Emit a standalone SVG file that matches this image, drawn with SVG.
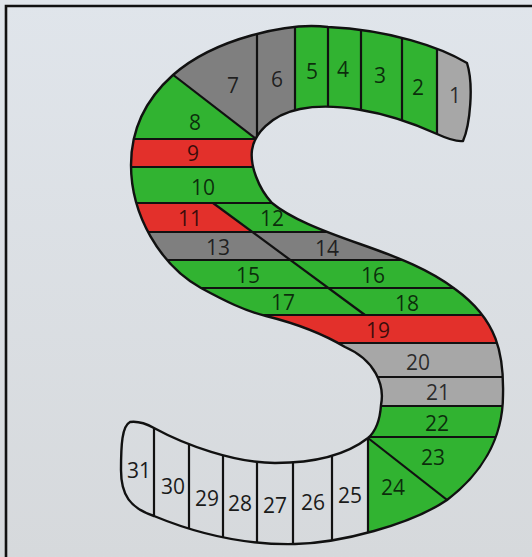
<svg xmlns="http://www.w3.org/2000/svg" width="532" height="557" viewBox="0 0 532 557">
<defs>
<linearGradient id="bg" x1="0" y1="0" x2="0" y2="1">
<stop offset="0" stop-color="#e0e5eb"/>
<stop offset="1" stop-color="#d6d9dc"/>
</linearGradient>
<clipPath id="s">
<path d="M467,63 C440,47 390,30 328,27 C290,22 215,38 173,75 C145,100 131,130 131,165 C131,215 160,265 201,288 C225,301 245,311 266,316 C290,322 320,332 345,347 C375,360 385,385 381,405 C380,420 375,432 368,438 C350,452 320,463 275,463 C235,463 185,445 154,428 C145,423 137,421 130,422 C122,426 121,445 121,470 C121,495 130,508 154,516 C200,535 250,545 295,544 C340,543 410,525 447,500 C480,475 503,440 503,395 C504,355 498,320 455,289 C430,270 400,258 360,244 C320,230 290,218 272,203 C258,188 250,165 252,150 C254,135 270,115 300,109 C330,103 380,108 437,134 C448,139 456,142 463,141 C470,125 474,85 467,63 Z"/>
</clipPath>
<style>
.g{fill:#31b331}
.r{fill:#e3302b}
.d{fill:#7f7f7f}
.l{fill:#a7a7a7}
.ln line{stroke:#111;stroke-width:2.2;fill:none}
.outline{fill:none;stroke:#111;stroke-width:2.4;stroke-linejoin:round}
text{font-family:"Open Sans","DejaVu Sans",sans-serif;font-size:21px;text-anchor:middle;fill:#000;fill-opacity:.75}
.t text{fill:#1a1a1a;fill-opacity:1}
</style>
</defs>
<rect width="532" height="557" fill="url(#bg)"/>
<path d="M6,557 V6 H532" fill="none" stroke="#111" stroke-width="2.6"/>
<g clip-path="url(#s)">
<g id="n1"><polygon class="l" points="437,0 540,0 540,160 437,160"/></g>
<g id="n2"><polygon class="g" points="402,0 437,0 437,140 402,140"/></g>
<g id="n3"><polygon class="g" points="361,0 402,0 402,140 361,140"/></g>
<g id="n4"><polygon class="g" points="328,0 361,0 361,140 328,140"/></g>
<g id="n5"><polygon class="g" points="295,0 328,0 328,140 295,140"/></g>
<g id="n6"><polygon class="d" points="257,0 295,0 295,140 257,140"/></g>
<g id="n7"><polygon class="d" points="257,-5 257,139 255,138 150,57 150,-5"/></g>
<g id="n8"><polygon class="g" points="255,138 150,57 100,57 100,139 257,139"/></g>
<g id="n9"><polygon class="r" points="100,139 300,139 300,167 100,167"/></g>
<g id="n10"><polygon class="g" points="100,167 300,167 300,203 100,203"/></g>
<g id="n11"><polygon class="r" points="100,203 213,203 252.4,232 100,232"/></g>
<g id="n12"><polygon class="g" points="213,203 420,203 420,232 252.4,232"/></g>
<g id="n13"><polygon class="d" points="100,232 252.4,232 290.4,260 100,260"/></g>
<g id="n14"><polygon class="d" points="252.4,232 480,232 480,260 290.4,260"/></g>
<g id="n15"><polygon class="g" points="100,260 290.4,260 328.4,288 100,288"/></g>
<g id="n16"><polygon class="g" points="290.4,260 520,260 520,288 328.4,288"/></g>
<g id="n17"><polygon class="g" points="100,288 328.4,288 365,315 100,315"/></g>
<g id="n18"><polygon class="g" points="328.4,288 540,288 540,315 365,315"/></g>
<g id="n19"><polygon class="r" points="200,315 540,315 540,343 200,343"/></g>
<g id="n20"><polygon class="l" points="300,343 540,343 540,377 300,377"/></g>
<g id="n21"><polygon class="l" points="300,377 540,377 540,406 300,406"/></g>
<g id="n22"><polygon class="g" points="300,406 540,406 540,437 300,437"/></g>
<g id="n23"><polygon class="g" points="368,437 540,437 540,573 368,438"/></g>
<g id="n24"><polygon class="g" points="368,438 540,573 368,573"/></g>
</g>
<g id="connectors" class="ln" clip-path="url(#s)">
<line x1="437" y1="20" x2="437" y2="160"/>
<line x1="402" y1="0" x2="402" y2="160"/>
<line x1="361" y1="0" x2="361" y2="160"/>
<line x1="328" y1="0" x2="328" y2="160"/>
<line x1="295" y1="0" x2="295" y2="160"/>
<line x1="257" y1="0" x2="257" y2="150"/>
<line x1="150" y1="57" x2="262" y2="143.4"/>
<line x1="100" y1="139" x2="270" y2="139"/>
<line x1="100" y1="167" x2="300" y2="167"/>
<line x1="100" y1="203" x2="300" y2="203"/>
<line x1="100" y1="232" x2="400" y2="232"/>
<line x1="100" y1="260" x2="450" y2="260"/>
<line x1="100" y1="288" x2="520" y2="288"/>
<line x1="200" y1="315" x2="540" y2="315"/>
<line x1="300" y1="343" x2="540" y2="343"/>
<line x1="300" y1="377" x2="540" y2="377"/>
<line x1="300" y1="406" x2="540" y2="406"/>
<line x1="360" y1="437" x2="540" y2="437"/>
<line x1="213" y1="203" x2="365" y2="315"/>
<line x1="368" y1="438" x2="460" y2="510"/>
<line x1="368" y1="430" x2="368" y2="560"/>
<line x1="332" y1="400" x2="332" y2="560"/>
<line x1="293" y1="400" x2="293" y2="560"/>
<line x1="257" y1="400" x2="257" y2="560"/>
<line x1="223" y1="400" x2="223" y2="560"/>
<line x1="189" y1="400" x2="189" y2="560"/>
<line x1="154" y1="400" x2="154" y2="560"/>
</g>
<path class="outline" d="M467,63 C440,47 390,30 328,27 C290,22 215,38 173,75 C145,100 131,130 131,165 C131,215 160,265 201,288 C225,301 245,311 266,316 C290,322 320,332 345,347 C375,360 385,385 381,405 C380,420 375,432 368,438 C350,452 320,463 275,463 C235,463 185,445 154,428 C145,423 137,421 130,422 C122,426 121,445 121,470 C121,495 130,508 154,516 C200,535 250,545 295,544 C340,543 410,525 447,500 C480,475 503,440 503,395 C504,355 498,320 455,289 C430,270 400,258 360,244 C320,230 290,218 272,203 C258,188 250,165 252,150 C254,135 270,115 300,109 C330,103 380,108 437,134 C448,139 456,142 463,141 C470,125 474,85 467,63 Z"/>
<g id="labels">
<text x="455" y="102.5">1</text>
<text x="418" y="94.5">2</text>
<text x="380" y="82.5">3</text>
<text x="343" y="76.5">4</text>
<text x="312" y="78.5">5</text>
<text x="277" y="86.5">6</text>
<text x="233" y="92.5">7</text>
<text x="195" y="129.5">8</text>
<text x="193" y="160.5">9</text>
<text x="203" y="194.5">10</text>
<text x="190" y="225.5">11</text>
<text x="272" y="225.5">12</text>
<text x="218" y="254.5">13</text>
<text x="327" y="255.5">14</text>
<text x="248" y="282.5">15</text>
<text x="373" y="282.5">16</text>
<text x="283" y="309.5">17</text>
<text x="407" y="310.5">18</text>
<text x="378" y="337.5">19</text>
<text x="418" y="369.5">20</text>
<text x="438" y="399.5">21</text>
<text x="437" y="430.5">22</text>
<text x="433" y="464.5">23</text>
<text x="393" y="494.5">24</text>
<g class="t">
<text x="350" y="502.5">25</text>
<text x="313" y="509.5">26</text>
<text x="275" y="512.5">27</text>
<text x="240" y="510.5">28</text>
<text x="207" y="505.5">29</text>
<text x="173" y="493.5">30</text>
<text x="139" y="477.5">31</text>
</g>
</g>
</svg>
